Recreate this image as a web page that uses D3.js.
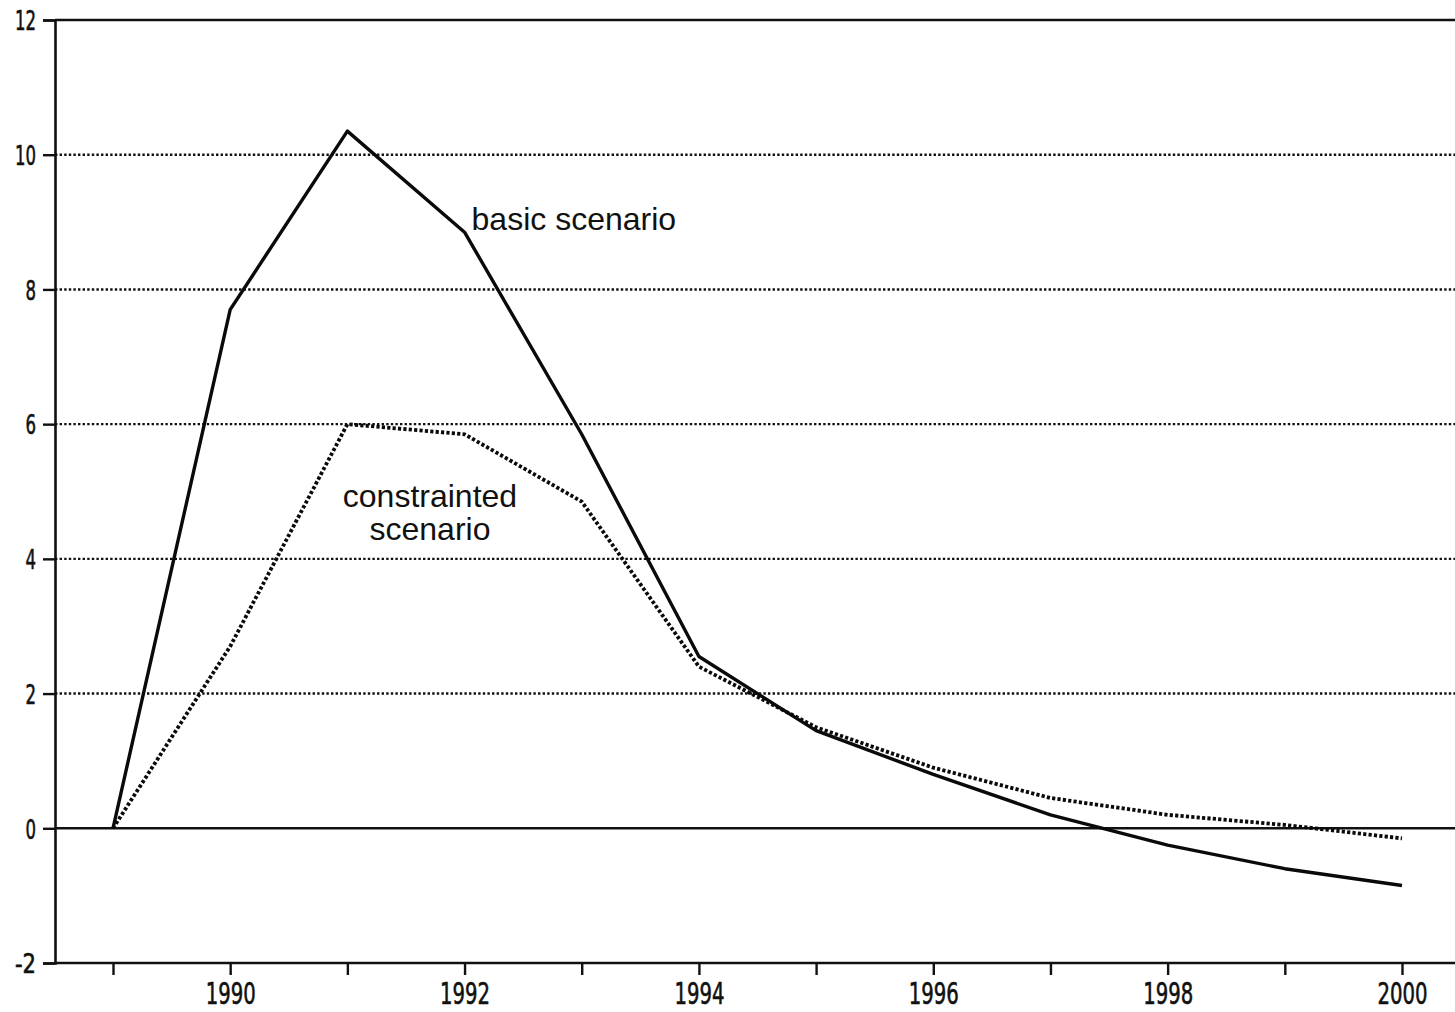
<!DOCTYPE html>
<html><head><meta charset="utf-8">
<script src="https://cdn.jsdelivr.net/npm/d3@7/dist/d3.min.js"></script>
<style>body{margin:0;background:#fff}svg{display:block}</style>
</head><body>
<svg id="chart" width="1455" height="1012"></svg>
<script>
const years = [1989,1990,1991,1992,1993,1994,1995,1996,1997,1998,1999,2000];
const basicScenario = [0,7.7,10.35,8.85,5.85,2.55,1.45,0.8,0.2,-0.25,-0.6,-0.85];
const constrainedScenario = [0,2.7,6.0,5.85,4.85,2.4,1.5,0.9,0.45,0.2,0.05,-0.15];
const yTicks = [-2,0,2,4,6,8,10,12];
const gridValues = [2,4,6,8,10];
const xLabelYears = [1990,1992,1994,1996,1998,2000];
const labels = [
  {lines:["basic scenario"], year:1992.06, value:8.88, anchor:"start"},
  {lines:["constrainted","scenario"], year:1991.705, value:4.77, anchor:"middle"}
];

(function(){
const svg = d3.select("#chart");
const mLeft = 55, mTop = 20, mBottom = 963, mRight = 1455;
const x = d3.scaleLinear().domain([1989,2000]).range([113,1402]);
const y = d3.scaleLinear().domain([-2,12]).range([mBottom, mTop]);
const tickFont = "'DejaVu Sans Condensed','Liberation Sans Narrow','DejaVu Sans',sans-serif";

svg.append("g").selectAll("line").data(gridValues).join("line")
  .attr("x1", mLeft).attr("x2", mRight)
  .attr("y1", d=>y(d)).attr("y2", d=>y(d))
  .attr("stroke","#111").attr("stroke-width",2.4)
  .attr("stroke-dasharray","2.4 2.2");

svg.append("line").attr("x1",mLeft).attr("x2",mRight).attr("y1",y(0)).attr("y2",y(0))
  .attr("stroke","#111").attr("stroke-width",2.4);
svg.append("line").attr("x1",mLeft).attr("x2",mRight).attr("y1",y(12)).attr("y2",y(12))
  .attr("stroke","#111").attr("stroke-width",2.6);

const yAxis = d3.axisLeft(y).tickValues(yTicks).tickSize(12).tickPadding(8).tickFormat(d => String(d));
const gy = svg.append("g").attr("transform",`translate(${mLeft},0)`).call(yAxis);
gy.select(".domain").attr("stroke","#111").attr("stroke-width",2.6);
gy.selectAll(".tick line").attr("stroke","#111").attr("stroke-width",2.4);
gy.selectAll(".tick text").attr("font-family",tickFont).attr("font-size",27)
  .attr("fill","#111").attr("stroke","#111").attr("stroke-width",0.6)
  .attr("x",-19).attr("dy","0.36em")
  .each(function(d){ const s=String(d); d3.select(this).attr("textLength", s.length*10.5).attr("lengthAdjust","spacingAndGlyphs"); });

const xAxis = d3.axisBottom(x).tickValues(years).tickSize(12).tickPadding(8)
  .tickFormat(d => xLabelYears.includes(d) ? String(d) : "");
const gx = svg.append("g").attr("transform",`translate(0,${mBottom})`).call(xAxis);
gx.select(".domain").attr("d", `M${mLeft},0H${mRight}`).attr("stroke","#111").attr("stroke-width",2.6);
gx.selectAll(".tick line").attr("stroke","#111").attr("stroke-width",2.4);
gx.selectAll(".tick text").attr("font-family",tickFont).attr("font-size",30)
  .attr("fill","#111").attr("stroke","#111").attr("stroke-width",0.6)
  .each(function(d){ if (xLabelYears.includes(d)) d3.select(this).attr("textLength",50).attr("lengthAdjust","spacingAndGlyphs"); });

const line = d3.line().x((d,i)=>x(years[i])).y(d=>y(d));

svg.append("path").datum(basicScenario).attr("d",line)
  .attr("fill","none").attr("stroke","#0a0a0a").attr("stroke-width",3.4)
  .attr("stroke-linejoin","round");
svg.append("path").datum(constrainedScenario).attr("d",line)
  .attr("fill","none").attr("stroke","#0a0a0a").attr("stroke-width",3.8)
  .attr("stroke-dasharray","3.2 2.2").attr("stroke-linecap","butt");

labels.forEach(l => {
  const t = svg.append("text")
    .attr("x", x(l.year)).attr("y", y(l.value))
    .attr("text-anchor", l.anchor)
    .attr("font-family","'Liberation Sans',Arial,sans-serif")
    .attr("font-size",32).attr("fill","#111");
  l.lines.forEach((s,i) => t.append("tspan").attr("x", x(l.year)).attr("dy", i===0?0:33).text(s));
});
})();
</script>
</body></html>
